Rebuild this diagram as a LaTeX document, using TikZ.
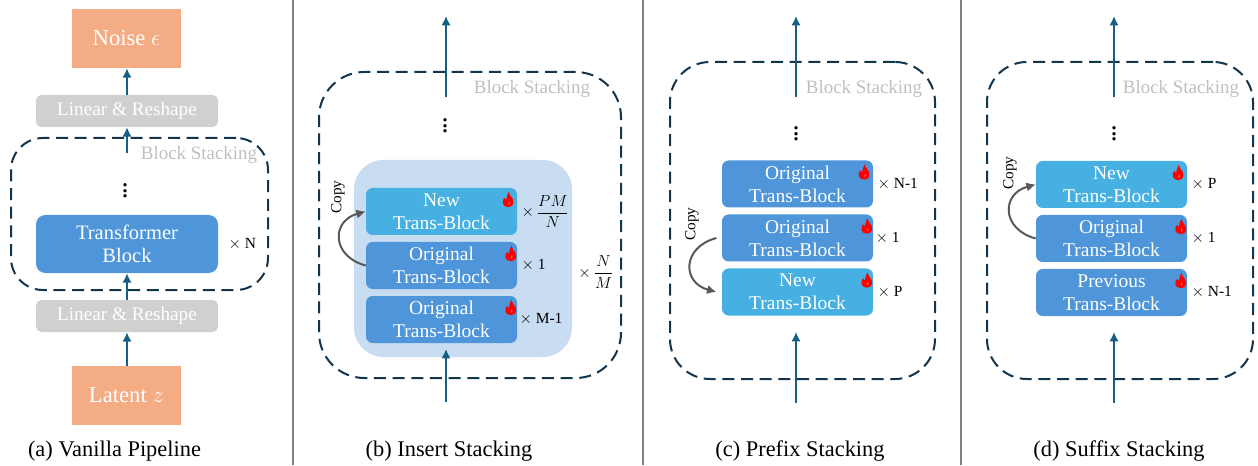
\documentclass[tikz,border=0pt]{standalone}
\usepackage{fontspec}
\setmainfont{Liberation Serif}
\usetikzlibrary{arrows.meta,positioning}
\definecolor{orangebox}{HTML}{F4AC84}
\definecolor{greybox}{HTML}{D0D0D0}
\definecolor{bluebox}{HTML}{4E95D9}
\definecolor{newbox}{HTML}{45B0E1}
\definecolor{palebox}{HTML}{C8DCF2}
\definecolor{arrowblue}{HTML}{156082}
\definecolor{dashblue}{HTML}{12344D}
\tikzset{
    outbox/.style={
           rectangle,
           fill=orangebox,
           text=white,
           inner sep=0pt,
           minimum width=81.75pt,
           minimum height=44.25pt,
           font=\fontsize{17}{20}\selectfont,
           },
}
\tikzset{
    linbox/.style={
           rectangle,
           rounded corners=4pt,
           fill=greybox,
           text=white,
           inner sep=0pt,
           minimum width=136.5pt,
           minimum height=24pt,
           font=\fontsize{14.4}{17}\selectfont,
           },
}
\tikzset{
    transbox/.style={
           rectangle,
           rounded corners=5pt,
           fill=bluebox,
           text=white,
           align=center,
           inner sep=0pt,
           minimum width=113.25pt,
           minimum height=35.25pt,
           font=\fontsize{14.6}{17.4}\selectfont,
           },
}
\tikzset{
    newblock/.style={transbox,fill=newbox},
    stackbox/.style={
           rectangle,
           rounded corners=30pt,
           draw=dashblue,
           line width=1.5pt,
           dash pattern=on 9pt off 5pt,
           inner sep=0pt,
           minimum width=199.5pt,
           minimum height=237.75pt,
           },
    flow/.style={-{Latex[length=7pt,width=7pt]},draw=arrowblue,line width=1.5pt},
    copyflow/.style={-{Latex[length=7pt,width=7pt]},draw=black!65,line width=1.5pt},
    stacklabel/.style={text=black!25,font=\fontsize{14.2}{16}\selectfont},
    times/.style={inner sep=0pt,font=\fontsize{11.6}{14}\selectfont},
    caption/.style={inner sep=0pt,font=\fontsize{16.8}{19}\selectfont},
    copylabel/.style={rotate=90,inner sep=0pt,font=\fontsize{11.5}{13}\selectfont},
    dotsnode/.style={inner sep=0pt,font=\fontsize{21}{24}\selectfont},
    divider/.style={draw=black!50,line width=1.1pt},
    flame/.pic={
        \fill[red] (0,-7.5) .. controls (-6,-7) and (-6.5,-1) .. (-3.5,2) .. controls (-3,1) and (-2.6,0) .. (-1.7,0) .. controls (-1.3,3) and (-0.5,6) .. (1,8) .. controls (1,4) and (5.5,2) .. (5.5,-2) .. controls (5.5,-6) and (3,-7.5) .. (0,-7.5);
        \fill[white!60!red] (0.5,-5) .. controls (2,-4.5) and (2.2,-3) .. (1.2,-1.5) .. controls (1.2,-3) and (1,-4) .. (0.5,-5);
    },
}

\begin{document}
\begin{tikzpicture}[x=0.75pt,y=0.75pt]
\useasboundingbox (0,0) rectangle (1258,465);
% panel dividers
\coordinate (d1t) at (293,465);
\coordinate (d1b) at (293,0);
\coordinate (d2t) at (643,465);
\coordinate (d2b) at (643,0);
\coordinate (d3t) at (961,465);
\coordinate (d3b) at (961,0);
\draw[divider] (d1t) -- (d1b);
\draw[divider] (d2t) -- (d2b);
\draw[divider] (d3t) -- (d3b);

% vanilla
\node[stackbox,rounded corners=24pt,minimum width=192.75pt,minimum height=114pt](stacka) at (139.5,251){};
\node[outbox](noise) at (126.5,426.5){Noise $\epsilon$};
\node[linbox](lin1) at (127,354){Linear \& Reshape};
\node[transbox,rounded corners=7pt,minimum width=136.5pt,minimum height=43.5pt,font=\fontsize{15.4}{17.4}\selectfont](tb) at (127,221){Transformer\\Block};
\node[linbox](lin2) at (127,149){Linear \& Reshape};
\node[outbox](latent) at (126.5,69.5){Latent $z$};
\coordinate (ta) at (127,312);
\draw[flow] (latent.north -| lin2.south) -- (lin2);
\draw[flow] (lin2) -- (tb);
\draw[flow] (ta) -- (lin1);
\draw[flow] (lin1) -- (noise.south -| lin1.north);
\node[dotsnode](dotsa) at (125,278){$\vdots$};
\node[stacklabel](bsa) at (199,310){Block Stacking};
\node[times,right=7.5pt of tb](xa){$\times$ N};
\node[caption](capa) at (114.5,14){(a) Vanilla Pipeline};

% insert
\node[stackbox,rounded corners=34pt,minimum width=226.5pt,minimum height=229.5pt](stackb) at (470,240){};
\node[rectangle,rounded corners=22pt,fill=palebox,inner sep=0pt,minimum width=163.5pt,minimum height=147.75pt](paleb) at (463,206.5){};
\node[newblock,node distance=40.5pt](nb) at (441.5,253.5){New\\Trans-Block};
\node[transbox,node distance=40.5pt,below of = nb](ob1){Original\\Trans-Block};
\node[transbox,node distance=40.5pt,below of = ob1](ob2){Original\\Trans-Block};
\pic at ([xshift=-7pt,yshift=-9pt]nb.north east) {flame};
\pic at ([xshift=-5pt,yshift=-9pt]ob1.north east) {flame};
\pic at ([xshift=-5pt,yshift=-9pt]ob2.north east) {flame};
\coordinate (tbs) at (446,368);
\coordinate (tbe) at (446,449);
\coordinate (bbs) at (446,63);
\coordinate (bbe) at (446,116);
\draw[flow] (tbs) -- (tbe);
\draw[flow] (bbs) -- (bbe);
\draw[copyflow] (ob1.west) to[out=165,in=195,looseness=1.7] (nb.west);
\node[copylabel](cpb) at (338,268){Copy};
\node[dotsnode](dotsb) at (445,343){$\vdots$};
\node[stacklabel](bsb) at (532,376){Block Stacking};
\node[times,right=3pt of nb](xb1){$\times\,\displaystyle\frac{PM}{N}$};
\node[times,right=3pt of ob1](xb2){$\times$ 1};
\node[times,right=1.5pt of ob2](xb3){$\times$ M-1};
\node[times](xb4) at (596,193){$\times\,\displaystyle\frac{N}{M}$};
\node[caption](capb) at (449,14){(b) Insert Stacking};

% prefix
\node[stackbox,minimum width=198.75pt](stackc) at (802.5,244.5){};
\node[transbox,node distance=40.5pt](oc1) at (797.5,281){Original\\Trans-Block};
\node[transbox,node distance=40.5pt,below of = oc1](oc2){Original\\Trans-Block};
\node[newblock,node distance=40.5pt,below of = oc2](nc){New\\Trans-Block};
\pic at ([xshift=-7pt,yshift=-9pt]oc1.north east) {flame};
\pic at ([xshift=-5pt,yshift=-9pt]oc2.north east) {flame};
\pic at ([xshift=-5pt,yshift=-9pt]nc.north east) {flame};
\coordinate (tcs) at (796,368);
\coordinate (tce) at (796,449);
\coordinate (bcs) at (796,62);
\coordinate (bce) at (796,133);
\draw[flow] (tcs) -- (tce);
\draw[flow] (bcs) -- (bce);
\draw[copyflow] ([xshift=-4pt]oc2.west) to[out=195,in=165,looseness=1.7] ([xshift=-4pt]nc.west);
\node[copylabel](cpc) at (692,241){Copy};
\node[dotsnode](dotsc) at (796,335){$\vdots$};
\node[stacklabel](bsc) at (864,376){Block Stacking};
\node[times,right=3pt of oc1](xc1){$\times$ N-1};
\node[times,right=1.5pt of oc2](xc2){$\times$ 1};
\node[times,right=3pt of nc](xc3){$\times$ P};
\node[caption](capc) at (800,14){(c) Prefix Stacking};

% suffix
\node[stackbox](stackd) at (1120,244.5){};
\node[newblock,node distance=40.5pt](nd) at (1111.5,280.5){New\\Trans-Block};
\node[transbox,node distance=40.5pt,below of = nd](od1){Original\\Trans-Block};
\node[transbox,node distance=40.5pt,below of = od1](od2){Previous\\Trans-Block};
\pic at ([xshift=-7pt,yshift=-9pt]nd.north east) {flame};
\pic at ([xshift=-5pt,yshift=-9pt]od1.north east) {flame};
\pic at ([xshift=-5pt,yshift=-9pt]od2.north east) {flame};
\coordinate (tds) at (1114,368);
\coordinate (tde) at (1114,449);
\coordinate (bds) at (1114,62);
\coordinate (bde) at (1114,133);
\draw[flow] (tds) -- (tde);
\draw[flow] (bds) -- (bde);
\draw[copyflow] (od1.west) to[out=165,in=195,looseness=1.7] (nd.west);
\node[copylabel](cpd) at (1010,292){Copy};
\node[dotsnode](dotsd) at (1114,335){$\vdots$};
\node[stacklabel](bsd) at (1181,376){Block Stacking};
\node[times,right=3pt of nd](xd1){$\times$ P};
\node[times,right=3pt of od1](xd2){$\times$ 1};
\node[times,right=3pt of od2](xd3){$\times$ N-1};
\node[caption](capd) at (1119,14){(d) Suffix Stacking};
\end{tikzpicture}
\end{document}
